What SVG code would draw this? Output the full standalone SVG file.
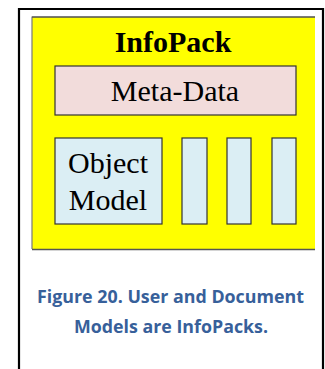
<svg xmlns="http://www.w3.org/2000/svg" width="325" height="369" viewBox="0 0 325 369">
<style>
.box{stroke:#333;stroke-width:1.2}
.serif{font-family:"Liberation Serif","Times New Roman",serif;fill:#000;text-anchor:middle}
.cap{font-family:"Open Sans","Noto Sans",sans-serif;font-weight:bold;font-size:17px;fill:#37609a;text-anchor:middle}
</style>
<rect x="0" y="0" width="325" height="369" fill="#fff"/>
<g id="frame">
<path d="M19,375 V9 H323 V375" fill="none" stroke="#000" stroke-width="2.2"/>
</g>
<g id="infopack">
<rect x="32" y="17" width="283" height="232" fill="#ffff00"/>
<path d="M32,249 V17 H315" fill="none" stroke="#7a7a7a" stroke-width="1.2"/>
<path d="M32,17 H315" fill="none" stroke="#3a3a3a" stroke-width="1.2"/>
<path d="M32,249.5 H315" fill="none" stroke="#555" stroke-width="1.5"/>
<text class="serif" x="173" y="52" font-size="30" font-weight="bold">InfoPack</text>
</g>
<g id="metadata">
<rect class="box" x="55" y="66" width="241" height="49" fill="#f2dcdb"/>
<text class="serif" x="175" y="101" font-size="30">Meta-Data</text>
</g>
<g id="objectmodel">
<rect class="box" x="55" y="138" width="107" height="86" fill="#dbeef4"/>
<text class="serif" x="108" y="173" font-size="30">Object</text>
<text class="serif" x="108" y="210" font-size="30">Model</text>
</g>
<g id="part1"><rect class="box" x="182" y="138" width="25" height="86" fill="#dbeef4"/></g>
<g id="part2"><rect class="box" x="227" y="138" width="24" height="86" fill="#dbeef4"/></g>
<g id="part3"><rect class="box" x="272" y="138" width="24" height="86" fill="#dbeef4"/></g>
<g id="connectors"></g>
<g id="caption">
<text class="cap" x="170.5" y="303" textLength="267" lengthAdjust="spacingAndGlyphs">Figure 20. User and Document</text>
<text class="cap" x="171" y="333" textLength="194" lengthAdjust="spacingAndGlyphs">Models are InfoPacks.</text>
</g>
</svg>
